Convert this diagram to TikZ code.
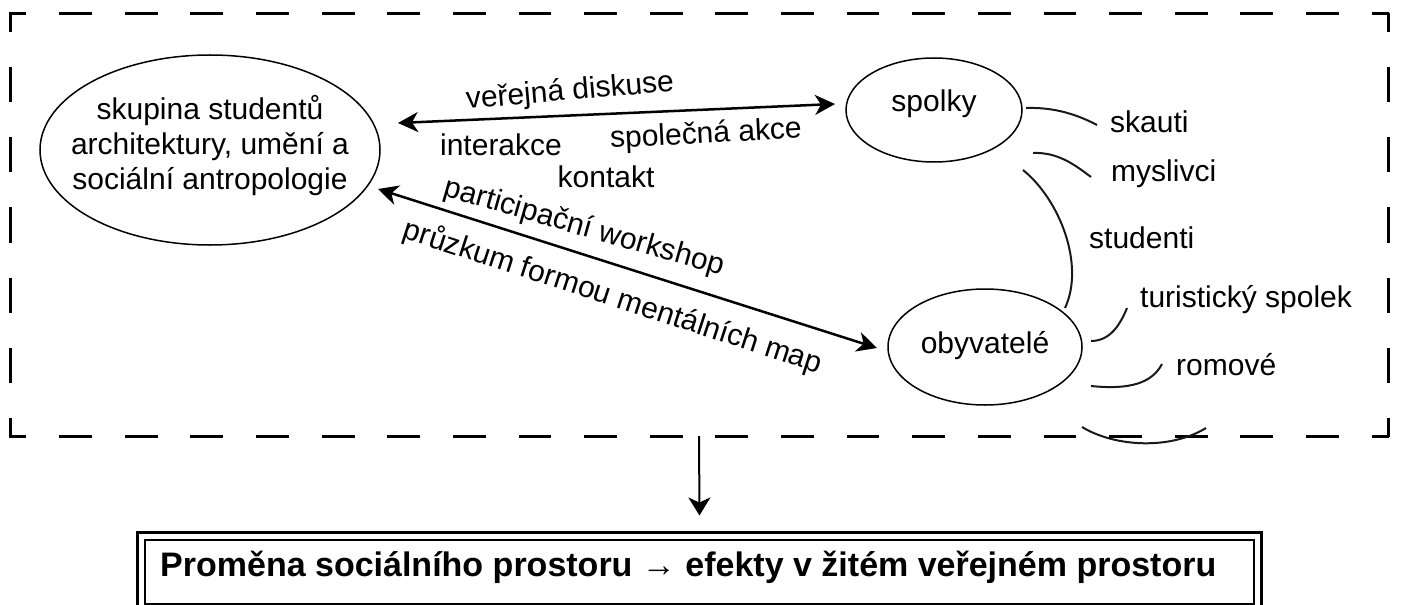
\documentclass[tikz,border=0pt]{standalone}
\usepackage{fontspec}
\setmainfont{Liberation Sans}
\usetikzlibrary{arrows.meta,shapes.geometric}
\begin{document}
\begin{tikzpicture}[x=1bp,y=-1bp,
  frame/.style={line width=3bp},
  hdash/.style={dash pattern=on 32.81bp off 32.81bp, dash phase=15bp},
  vdash/.style={dash pattern=on 35.17bp off 35.17bp, dash phase=16.2bp},
  ell/.style={draw, ellipse, line width=1.5bp, inner sep=0pt},
  txt/.style={font=\fontsize{30bp}{35bp}\selectfont, inner sep=0pt},
  rlab/.style={txt, anchor=base west},
  arr/.style={line width=2.5bp, {Stealth[length=20bp,width=20bp,inset=6bp]}-{Stealth[length=20bp,width=20bp,inset=6bp]}},
  twig/.style={line width=2bp, draw=black!90},
]
\useasboundingbox (0,0) rectangle (1402,605);
% dashed frame
\draw[frame, hdash] (8.6,14) -- (1389.4,14);
\draw[frame, hdash] (8.6,436) -- (1389.4,436);
\draw[frame, vdash] (10,12.6) -- (10,437.4);
\draw[frame, vdash] (1388,12.6) -- (1388,437.4);
% ellipses
\node[ell, minimum width=340bp, minimum height=190bp] (e1) at (210,150) {};
\node[txt, align=center] (e1t) at (210,146) {skupina studentů\\architektury, umění a\\sociální antropologie};
\node[ell, minimum width=176bp, minimum height=104bp] (sp) at (934,110) {};
\node[txt] (spt) at (934,104) {spolky};
\node[ell, minimum width=194bp, minimum height=116bp] (ob) at (985,347) {};
\node[txt] (obt) at (985,346) {obyvatelé};
% arrow labels
\node[txt, rotate=5] (l1) at (570,92) {veřejná diskuse};
\node[txt, anchor=base] (l2) at (501,156) {interakce};
\node[txt, rotate=3] (l3) at (706,135) {společná akce};
\node[txt, anchor=base] (l4) at (606,188) {kontakt};
\node[txt, rotate=-16] (l5) at (584,228) {participační workshop};
\node[txt, rotate=-18] (l6) at (613,297) {průzkum formou mentálních map};
% arrows
\draw[arr] ([shift={(188,-27)}]e1.center) -- ([shift={(-99,-6)}]sp.center);
\draw[arr] ([shift={(168,39)}]e1.center) -- ([shift={(-108,1)}]ob.center);
% right labels
\node[rlab] (sk) at (1110,133) {skauti};
\node[rlab] (my) at (1111,182) {myslivci};
\node[rlab] (st) at (1089,248) {studenti};
\node[rlab] (tu) at (1140,307) {turistický spolek};
\node[rlab] (ro) at (1176,375) {romové};
% twigs
\draw[twig] ([shift={(92,-2)}]sp.center) .. controls (1055,107) and (1078,115) .. ([shift={(-13,-8)}]sk.base west);
\draw[twig] ([shift={(99,43)}]sp.center) .. controls (1058,152) and (1075,165) .. ([shift={(-20,-5)}]my.base west);
\draw[twig] ([shift={(89,60)}]sp.center) .. controls (1060,200) and (1085,265) .. ([shift={(80,-39)}]ob.center);
\draw[twig] ([shift={(106,-6)}]ob.center) .. controls (1110,341) and (1120,325) .. ([shift={(-13,1)}]tu.base west);
\draw[twig] ([shift={(106,39)}]ob.center) .. controls (1130,390) and (1152,383) .. ([shift={(-14,-11)}]ro.base west);
\draw[twig] ([shift={(97,80)}]ob.center) .. controls (1115,447) and (1170,450) .. ([shift={(221,81)}]ob.center);
% result box
\node[draw, line width=3bp, minimum width=1123bp, minimum height=79bp, inner sep=0pt] (res) at (699.5,571.5) {};
\draw[line width=2bp] ([shift={(9,9)}]res.north west) rectangle ([shift={(-9,-9)}]res.south east);
\node[font=\fontsize{34bp}{40bp}\selectfont\bfseries, anchor=base west, inner sep=0pt] (rest) at (160,576) {Proměna sociálního prostoru → efekty v žitém veřejném prostoru};
\coordinate (fb) at (699,436);
\draw[line width=2bp, -{Stealth[length=18bp,width=22bp,inset=5bp]}] (fb) -- ([shift={(0,-15)}]res.north);
\end{tikzpicture}
\end{document}
